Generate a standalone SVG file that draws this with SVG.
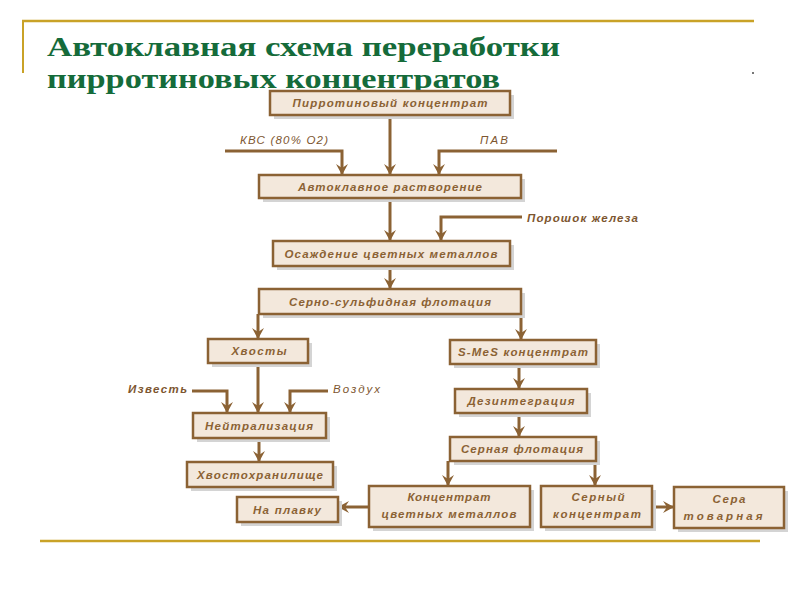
<svg xmlns="http://www.w3.org/2000/svg" width="800" height="600" viewBox="0 0 800 600">
<defs>
<marker id="ah" markerUnits="userSpaceOnUse" markerWidth="12" markerHeight="12" refX="11" refY="6" orient="auto" viewBox="0 0 12 12">
<path d="M0,0 L11,6 L0,12 L4,6 z" fill="#8b6234"/>
</marker>
<style>
.box{fill:#f3e8dc;stroke:#8b6234;stroke-width:2.5}
.sh{fill:#d4d4d4}
.t{font-family:"Liberation Sans",Arial,sans-serif;font-size:11.5px;font-style:italic;font-weight:bold;fill:#8b6234;text-anchor:middle}
.lb{font-family:"Liberation Sans",Arial,sans-serif;font-size:11.5px;font-style:italic;fill:#7d5630}
.lbb{font-weight:bold}
.c{fill:none;stroke:#8b6234;stroke-width:3;marker-end:url(#ah)}
.gold{stroke:#c9a227;fill:none}
.title{font-family:"Liberation Serif","Times New Roman",serif;font-size:28px;font-weight:bold;fill:#156b3a}
</style>
</defs>
<rect width="800" height="600" fill="#ffffff"/>
<g id="decor">
<path class="gold" d="M22,21 H754" stroke-width="2.5"/>
<path class="gold" d="M23,21 V73" stroke-width="2"/>
<path class="gold" d="M40,541 H760" stroke-width="2.5"/>
<rect x="752" y="72" width="2" height="2" fill="#777"/>
</g>
<g id="title">
<text class="title" x="47" y="56" textLength="513" lengthAdjust="spacingAndGlyphs">Автоклавная схема переработки</text>
<text class="title" x="47" y="88" textLength="453" lengthAdjust="spacingAndGlyphs">пирротиновых концентратов</text>
</g>
<g id="connectors">
<path class="c" d="M390,115 V175"/>
<path class="c" d="M225,151 H342 V175"/>
<path class="c" d="M557,151 H439 V175"/>
<path class="c" d="M390,198 V241"/>
<path class="c" d="M522,217 H441 V241"/>
<path class="c" d="M390,266 V289"/>
<path class="c" d="M258,314 V339"/>
<path class="c" d="M521,314 V340"/>
<path class="c" d="M258,363 V413"/>
<path class="c" d="M192,391 H227 V413"/>
<path class="c" d="M328,391 H290 V413"/>
<path class="c" d="M259,438 V462"/>
<path class="c" d="M519,364 V389"/>
<path class="c" d="M519,413 V437"/>
<path class="c" d="M448,461 V486"/>
<path class="c" d="M595,461 V486"/>
<path class="c" d="M369,507 H338"/>
<path class="c" d="M652,507 H674"/>
</g>
<g id="labels">
<text class="lb" x="240" y="144" textLength="88" lengthAdjust="spacing">КВС (80% O2)</text>
<text class="lb" x="480" y="144" textLength="28" lengthAdjust="spacing">ПАВ</text>
<text class="lb lbb" x="527" y="222" textLength="111" lengthAdjust="spacing">Порошок железа</text>
<text class="lb lbb" x="128" y="393" textLength="59" lengthAdjust="spacing">Известь</text>
<text class="lb" x="333" y="393" textLength="47" lengthAdjust="spacing">Воздух</text>
</g>
<g id="n1"><rect class="sh" x="274" y="95" width="240" height="24"/><rect class="box" x="270" y="91" width="240" height="24"/><text class="t" x="390" y="107" textLength="195" lengthAdjust="spacing">Пирротиновый концентрат</text></g>
<g id="n2"><rect class="sh" x="263" y="179" width="262" height="23"/><rect class="box" x="259" y="175" width="262" height="23"/><text class="t" x="390" y="191" textLength="184" lengthAdjust="spacing">Автоклавное растворение</text></g>
<g id="n3"><rect class="sh" x="277" y="245" width="237" height="25"/><rect class="box" x="273" y="241" width="237" height="25"/><text class="t" x="391" y="258" textLength="213" lengthAdjust="spacing">Осаждение цветных металлов</text></g>
<g id="n4"><rect class="sh" x="263" y="293" width="262" height="25"/><rect class="box" x="259" y="289" width="262" height="25"/><text class="t" x="390" y="306" textLength="202" lengthAdjust="spacing">Серно-сульфидная флотация</text></g>
<g id="n5"><rect class="sh" x="212" y="343" width="100" height="24"/><rect class="box" x="208" y="339" width="100" height="24"/><text class="t" x="259" y="355" textLength="55" lengthAdjust="spacing">Хвосты</text></g>
<g id="n6"><rect class="sh" x="454" y="344" width="146" height="24"/><rect class="box" x="450" y="340" width="146" height="24"/><text class="t" x="523" y="356" textLength="130" lengthAdjust="spacing">S-MeS концентрат</text></g>
<g id="n7"><rect class="sh" x="197" y="417" width="133" height="25"/><rect class="box" x="193" y="413" width="133" height="25"/><text class="t" x="259" y="430" textLength="108" lengthAdjust="spacing">Нейтрализация</text></g>
<g id="n8"><rect class="sh" x="191" y="466" width="146" height="25"/><rect class="box" x="187" y="462" width="146" height="25"/><text class="t" x="260" y="479" textLength="126" lengthAdjust="spacing">Хвостохранилище</text></g>
<g id="n9"><rect class="sh" x="459" y="393" width="132" height="24"/><rect class="box" x="455" y="389" width="132" height="24"/><text class="t" x="521" y="405" textLength="107" lengthAdjust="spacing">Дезинтеграция</text></g>
<g id="n10"><rect class="sh" x="454" y="441" width="146" height="24"/><rect class="box" x="450" y="437" width="146" height="24"/><text class="t" x="522" y="453" textLength="122" lengthAdjust="spacing">Серная флотация</text></g>
<g id="n11"><rect class="sh" x="373" y="490" width="161" height="41"/><rect class="box" x="369" y="486" width="161" height="41"/><text class="t" x="449" y="501" textLength="83" lengthAdjust="spacing">Концентрат</text><text class="t" x="449" y="518" textLength="135" lengthAdjust="spacing">цветных металлов</text></g>
<g id="n12"><rect class="sh" x="545" y="490" width="111" height="41"/><rect class="box" x="541" y="486" width="111" height="41"/><text class="t" x="598" y="501" textLength="53" lengthAdjust="spacing">Серный</text><text class="t" x="597" y="518" textLength="88" lengthAdjust="spacing">концентрат</text></g>
<g id="n13"><rect class="sh" x="678" y="491" width="110" height="41"/><rect class="box" x="674" y="487" width="110" height="41"/><text class="t" x="729" y="503" textLength="33" lengthAdjust="spacing">Сера</text><text class="t" x="723" y="520" textLength="79" lengthAdjust="spacing">товарная</text></g>
<g id="n14"><rect class="sh" x="241" y="501" width="101" height="25"/><rect class="box" x="237" y="497" width="101" height="25"/><text class="t" x="287" y="514" textLength="68" lengthAdjust="spacing">На плавку</text></g>
</svg>
